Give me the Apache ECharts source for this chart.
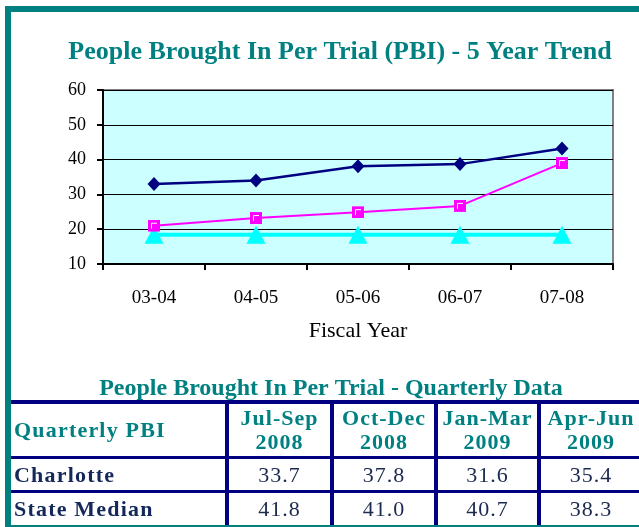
<!DOCTYPE html>
<html>
<head>
<meta charset="utf-8">
<script src="https://cdn.jsdelivr.net/npm/echarts@6/dist/echarts.min.js"></script>
<style>
  html, body { margin: 0; padding: 0; background: #fff; }
  #wrap { position: relative; width: 639px; height: 527px; overflow: hidden; }
  #chart { position: absolute; left: 0; top: 0; width: 639px; height: 527px; }
  .frameL { position: absolute; left: 5px; top: 6px; width: 6px; height: 521px; background: #008080; }
  .frameT { position: absolute; left: 5px; top: 6px; width: 640px; height: 6px; background: #008080; }
  .frameB { position: absolute; left: 5px; top: 525px; width: 640px; height: 2px; background: #008080; }
  .hl { position: absolute; background: #000080; }
  .vl { position: absolute; background: #000080; }
  .cell { position: absolute; display: flex; align-items: center; font-family: "Liberation Serif", "Times New Roman", serif; }
  .hdr { color: #008080; font-weight: bold; font-size: 22px; letter-spacing: 1px; justify-content: center; text-align: center; line-height: 24px; }
  .rowlab { color: #14285a; font-weight: bold; font-size: 22px; letter-spacing: 1.2px; padding-left: 3px; }
  .val { color: #1c2a50; font-size: 22px; letter-spacing: 1px; justify-content: center; }
</style>
</head>
<body>
<div id="wrap">
  <div id="chart"></div>
  <div id="table"></div>
  <div class="frameL"></div>
  <div class="frameT"></div>
  <div class="frameB"></div>
</div>
<script>
// ---- data ----
const fiscalYears = ['03-04', '04-05', '05-06', '06-07', '07-08'];
const seriesNavy = [33.0, 34.0, 38.1, 38.7, 43.2];
const seriesPink = [21.0, 23.2, 24.9, 26.7, 39.0];
const seriesCyan = [18.4, 18.4, 18.4, 18.4, 18.4];
const yTicks = [10, 20, 30, 40, 50, 60];

const quarterHeaders = ['Jul-Sep\n2008', 'Oct-Dec\n2008', 'Jan-Mar\n2009', 'Apr-Jun\n2009'];
const rowLabels = ['Charlotte', 'State Median'];
const charlotteQ = ['33.7', '37.8', '31.6', '35.4'];
const stateMedianQ = ['41.8', '41.0', '40.7', '38.3'];

// ---- chart ----
const squareSvg = 'image://data:image/svg+xml;utf8,' + encodeURIComponent(
  '<svg xmlns="http://www.w3.org/2000/svg" width="12" height="12" viewBox="0 0 12 12">' +
  '<rect x="0" y="0" width="12" height="12" fill="#FF00FF"/>' +
  '<path d="M3.5,9 V3.5 H9" stroke="#FFFFFF" stroke-width="1" fill="none"/></svg>');

const chart = echarts.init(document.getElementById('chart'), null, { renderer: 'canvas' });
const serif = '"Liberation Serif", "Times New Roman", serif';
chart.setOption({
  animation: false,
  backgroundColor: 'transparent',
  title: [
    {
      text: 'People Brought In Per Trial (PBI) - 5 Year Trend',
      left: 335, top: 34, textAlign: 'center',
      textStyle: { fontFamily: serif, fontWeight: 'bold', fontSize: 26, color: '#008080' }
    },
    {
      text: 'People Brought In Per Trial - Quarterly Data',
      left: 326, top: 372, textAlign: 'center',
      textStyle: { fontFamily: serif, fontWeight: 'bold', fontSize: 24, color: '#008080' }
    }
  ],
  grid: {
    left: 103, top: 90, width: 510, height: 174,
    show: true, backgroundColor: '#CCFFFF', borderColor: '#808080', borderWidth: 2
  },
  xAxis: {
    type: 'category', data: fiscalYears, boundaryGap: true,
    name: 'Fiscal Year', nameLocation: 'middle', nameGap: 56,
    nameTextStyle: { fontFamily: serif, fontSize: 22, color: '#000' },
    axisLine: { lineStyle: { color: '#000', width: 2 } },
    axisTick: { show: true, alignWithLabel: false, length: 6, lineStyle: { color: '#000', width: 2 } },
    axisLabel: { fontFamily: serif, fontSize: 19, color: '#000', margin: 25 },
    splitLine: { show: false }
  },
  yAxis: {
    type: 'value', min: 10, max: 60, interval: 10,
    axisLine: { show: true, lineStyle: { color: '#000', width: 2 } },
    axisTick: { show: true, length: 6, inside: false, lineStyle: { color: '#000', width: 2 } },
    axisLabel: { fontFamily: serif, fontSize: 18, color: '#000', margin: 17,
      formatter: v => (yTicks.indexOf(v) >= 0 ? String(v) : '') },
    splitLine: { show: true, lineStyle: { color: '#000', width: 1 } }
  },
  series: [
    {
      type: 'line', data: seriesCyan, symbol: 'triangle', symbolSize: [19, 18],
      itemStyle: { color: '#00FFFF' }, lineStyle: { color: '#00FFFF', width: 4 }, z: 2
    },
    {
      type: 'line', data: seriesPink, symbol: squareSvg, symbolSize: 12,
      itemStyle: { color: '#FF00FF' }, lineStyle: { color: '#FF00FF', width: 2 }, z: 3
    },
    {
      type: 'line', data: seriesNavy, symbol: 'diamond', symbolSize: [13, 14],
      itemStyle: { color: '#000080' }, lineStyle: { color: '#000080', width: 2.5 }, z: 4
    }
  ]
});

// ---- table ----
const tbl = document.getElementById('table');
const vLines = [225, 330, 434, 537];
function add(cls, style, text) {
  const d = document.createElement('div');
  d.className = cls;
  Object.assign(d.style, style);
  if (text !== undefined) d.innerText = text;
  tbl.appendChild(d);
  return d;
}
// horizontal lines
add('hl', { left: '11px', top: '400px', width: '640px', height: '4px' });
add('hl', { left: '11px', top: '456px', width: '640px', height: '3px' });
add('hl', { left: '11px', top: '490px', width: '640px', height: '3px' });
// vertical lines
vLines.forEach(x => add('vl', { left: x + 'px', top: '400px', width: '4px', height: '126px' }));
// header
add('cell rowlab', { left: '11px', top: '404px', width: '214px', height: '52px', color: '#008080' }, 'Quarterly PBI');
const cellL = [229, 334, 438, 541];
const cellW = [101, 100, 99, 100];
quarterHeaders.forEach((h, i) => add('cell hdr', { left: cellL[i] + 'px', top: '404px', width: cellW[i] + 'px', height: '52px' }, h));
// rows
const rows = [charlotteQ, stateMedianQ];
const rowTop = [459, 493];
const rowH = [31, 32];
rows.forEach((r, ri) => {
  add('cell rowlab', { left: '11px', top: rowTop[ri] + 'px', width: '214px', height: rowH[ri] + 'px' }, rowLabels[ri]);
  r.forEach((v, i) => add('cell val', { left: cellL[i] + 'px', top: rowTop[ri] + 'px', width: cellW[i] + 'px', height: rowH[ri] + 'px' }, v));
});
</script>
</body>
</html>
